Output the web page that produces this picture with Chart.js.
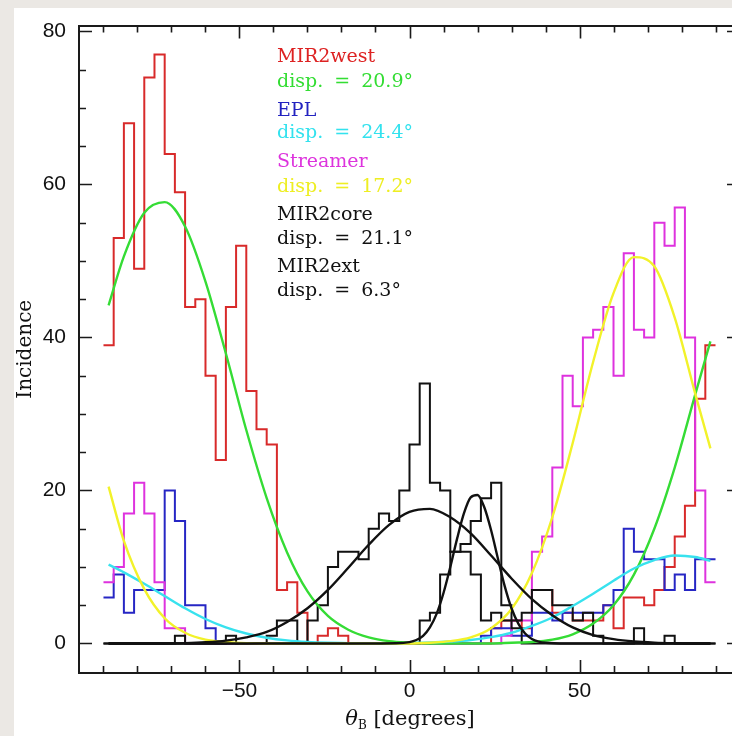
<!DOCTYPE html>
<html>
<head>
<meta charset="utf-8">
<script src="https://cdn.jsdelivr.net/npm/chart.js@4.4.1/dist/chart.umd.min.js"></script>
<style>
  html, body { margin: 0; padding: 0; width: 732px; height: 736px; overflow: hidden; background: #ebe8e4; }
  #paper { position: absolute; left: 14px; top: 8px; width: 718px; height: 728px; background: #ffffff; }
  #wrap { position: absolute; left: 0; top: 0; width: 741px; height: 736px; }
  canvas { display: block; }
  .key { position: absolute; left: 277px; height: 22px; line-height: 22px; font-family: "DejaVu Serif", serif; font-size: 19px; white-space: pre; word-spacing: 5px; }
  #xtitle { position: absolute; left: 0; width: 820px; top: 706px; text-align: center; font-family: "DejaVu Serif", serif; font-size: 21px; color: #111; }
  #xtitle sub { font-size: 12px; vertical-align: -4px; font-style: normal; }
</style>
</head>
<body>
<div id="paper"></div>
<div id="wrap"><canvas id="c" width="741" height="736"></canvas></div>
<div id="keys"></div>
<div id="xtitle"><i>θ</i><sub>B</sub> [degrees]</div>
<script>
// Bin edges of the position-angle histograms (degrees)
const BIN_EDGES = [-90,-87,-84,-81,-78,-75,-72,-69,-66,-63,-60,-57,-54,-51,-48,-45,-42,-39,-36,-33,
  -30,-27,-24,-21,-18,-15,-12,-9,-6,-3,0,3,6,9,12,15,18,21,24,27,
  30,33,36,39,42,45,48,51,54,57,60,63,66,69,72,75,78,81,84,87,90];

// Counts per bin
const MIR2WEST = [39,53,68,49,74,77,64,59,44,45, 35,24,44,52,33,28,26,7,8,4,
  0,1,2,1,0,0,0,0,0,0, 0,0,0,0,0,0,0,0,2,3, 3,2,7,7,4,4,3,3,3,5, 2,6,6,5,7,10,14,18,32,39];
const EPL = [6,9,4,7,7,7,20,16,5,5, 2,0,0,0,0,0,0,0,0,0,
  0,0,0,0,0,0,0,0,0,0, 0,0,0,0,0,0,0,1,2,2, 1,1,4,4,3,4,4,4,4,5, 7,15,12,11,11,7,9,7,11,11];
const STREAMER = [8,10,17,21,17,8,2,2,0,0, 0,0,0,0,0,0,0,0,0,0,
  0,0,0,0,0,0,0,0,0,0, 0,0,0,0,0,0,0,0,0,1, 3,3,12,14,23,35,31,40,41,44, 35,51,41,40,55,52,57,40,20,8];
const MIR2CORE = [0,0,0,0,0,0,0,1,0,0, 0,0,1,0,0,0,1,3,3,0,
  3,5,10,12,12,11,15,17,16,20, 26,34,21,20,12,12,9,3,4,3, 3,4,7,7,5,5,3,4,1,0, 0,0,2,0,0,1,0,0,0,0];
const MIR2EXT = [0,0,0,0,0,0,0,0,0,0, 0,0,0,0,0,0,0,0,0,0,
  0,0,0,0,0,0,0,0,0,0, 0,3,4,9,12,13,16,19,21,5, 2,0,0,0,0,0,0,0,0,0, 0,0,0,0,0,0,0,0,0,0];

// Gaussian fits, sampled along the angle axis
const FIT_X = [-88.5,-84,-78,-72,-66,-60,-54,-48,-42,-36,-30,-24,-18,-12,-6,0,
  6,12,18,24,30,36,42,48,54,60,66,72,78,84,88.5];
const FIT_WEST = [44.2,50.6,56.3,57.7,54.5,47.3,37.9,27.9,19.0,11.9,6.8,3.6,1.8,0.8,0.3,0.1,
  0,0,0,0,0.1,0.2,0.5,1.2,2.6,5.0,9.0,15.0,23.0,32.5,39.5];
const FIT_EPL = [10.3,9.3,7.8,6.2,4.6,3.2,2.1,1.3,0.75,0.4,0.2,0.1,0.05,0,0,0.05,
  0.12,0.25,0.46,0.83,1.4,2.3,3.4,4.9,6.5,8.2,9.8,10.9,11.5,11.3,10.8];
const FIT_STREAMER = [20.5,13.4,7.1,3.3,1.4,0.5,0.2,0.05,0,0,0,0,0,0,0,0,
  0.1,0.3,0.8,2.0,4.5,9.2,16.5,26.2,36.8,45.8,50.5,49.3,42.6,32.7,25.5];
const FIT_CORE = [0,0,0,0,0.05,0.16,0.37,0.8,1.5,2.8,4.6,7.0,9.9,12.9,15.5,17.2,
  17.6,16.5,14.4,11.5,8.5,5.8,3.7,2.1,1.1,0.56,0.25,0.1,0.03,0,0];
const FIT_EXT_X = [-88.5,-10,-4,0,2,4,6,8,10,12,14,16,18,20,22,24,26,28,30,32,34,36,38,40,46,88.5];
const FIT_EXT = [0,0,0.02,0.18,0.45,1.0,2.1,3.9,6.6,10.0,13.7,17.0,19.1,19.4,17.8,14.8,11.1,7.5,4.6,2.6,1.3,0.58,0.24,0.09,0,0];

// Axis labels and tick marks
const X_LABELS = [-50, 0, 50];
const Y_LABELS = [0, 20, 40, 60, 80];
const X_TICKS = [-90,-80,-70,-60,-50,-40,-30,-20,-10,0,10,20,30,40,50,60,70,80,90];
const Y_TICKS = [0,5,10,15,20,25,30,35,40,45,50,55,60,65,70,75,80];

// Key text beside the peaks
const KEY = [
  ['MIR2west', '#dd2222', 55], ['disp. = 20.9°', '#33dd33', 80],
  ['EPL', '#2323c0', 109], ['disp. = 24.4°', '#33e2ee', 131],
  ['Streamer', '#dd33dd', 160], ['disp. = 17.2°', '#eeee22', 185],
  ['MIR2core', '#111111', 213], ['disp. = 21.1°', '#111111', 237],
  ['MIR2ext', '#111111', 265], ['disp. = 6.3°', '#111111', 289]
];

const COLORS = { red: '#d82a2a', green: '#35dc35', blue: '#2626c4', cyan: '#38e2ee', magenta: '#de32de', yellow: '#f2f22a', black: '#111111' };

const keys = document.getElementById('keys');
KEY.forEach(([t, c, yc]) => {
  const d = document.createElement('div');
  d.className = 'key';
  d.textContent = t;
  d.style.color = c;
  d.style.top = (yc - 11) + 'px';
  keys.appendChild(d);
});

function histPoints(counts) {
  return BIN_EDGES.map((e, i) => ({ x: e, y: counts[Math.min(i, counts.length - 1)] }));
}
function curvePoints(xs, ys) {
  return xs.map((x, i) => ({ x, y: ys[i] }));
}
function hist(label, counts, color, order) {
  return { label, data: histPoints(counts), borderColor: color, borderWidth: 2, stepped: 'before', pointRadius: 0, fill: false, order };
}
function fit(label, xs, ys, color, order) {
  return { label, data: curvePoints(xs, ys), borderColor: color, borderWidth: 2.4, cubicInterpolationMode: 'monotone', pointRadius: 0, fill: false, order };
}

const insideTicks = {
  id: 'insideTicks',
  afterDraw(chart) {
    const { ctx, chartArea: a, scales: { x, y } } = chart;
    ctx.save();
    ctx.strokeStyle = '#1a1a1a';
    ctx.lineWidth = 1.6;
    ctx.beginPath();
    X_TICKS.forEach(v => {
      const px = Math.round(x.getPixelForValue(v)) + 0.5;
      const len = v % 50 === 0 ? 13 : 7;
      ctx.moveTo(px, a.bottom); ctx.lineTo(px, a.bottom - len);
      ctx.moveTo(px, a.top); ctx.lineTo(px, a.top + len);
    });
    Y_TICKS.forEach(v => {
      const py = Math.round(y.getPixelForValue(v)) + 0.5;
      const len = v % 20 === 0 ? 13 : 7;
      ctx.moveTo(a.left, py); ctx.lineTo(a.left + len, py);
      ctx.moveTo(a.right, py); ctx.lineTo(a.right - len, py);
    });
    ctx.stroke();
    ctx.restore();
  }
};

const tickFont = { family: '"Liberation Sans", Arial, sans-serif', size: 21 };
const frame = { display: true, color: '#1a1a1a', width: 2 };

new Chart(document.getElementById('c'), {
  type: 'line',
  data: {
    datasets: [
      fit('MIR2ext fit', FIT_EXT_X, FIT_EXT, COLORS.black, 1),
      fit('MIR2core fit', FIT_X, FIT_CORE, COLORS.black, 2),
      fit('Streamer fit', FIT_X, FIT_STREAMER, COLORS.yellow, 3),
      fit('EPL fit', FIT_X, FIT_EPL, COLORS.cyan, 4),
      fit('MIR2west fit', FIT_X, FIT_WEST, COLORS.green, 5),
      hist('MIR2ext', MIR2EXT, COLORS.black, 6),
      hist('MIR2core', MIR2CORE, COLORS.black, 7),
      hist('Streamer', STREAMER, COLORS.magenta, 8),
      hist('EPL', EPL, COLORS.blue, 9),
      hist('MIR2west', MIR2WEST, COLORS.red, 10)
    ]
  },
  options: {
    responsive: false,
    animation: false,
    events: [],
    layout: { padding: 0 },
    plugins: { legend: { display: false }, tooltip: { enabled: false } },
    scales: {
      x: {
        type: 'linear', position: 'bottom', min: -97.2, max: 97.2,
        grid: { display: false, drawTicks: false }, border: frame,
        ticks: { font: tickFont, color: '#111', padding: 6, maxRotation: 0,
          callback: v => String(v).replace('-', '\u2212') },
        afterBuildTicks: s => { s.ticks = X_LABELS.map(v => ({ value: v })); },
        afterFit: s => { s.height = 63; }
      },
      xTop: {
        type: 'linear', position: 'top', min: -97.2, max: 97.2,
        grid: { display: false, drawTicks: false }, border: frame,
        ticks: { display: false },
        afterFit: s => { s.height = 15; }
      },
      y: {
        type: 'linear', position: 'left', min: -3.86, max: 80.77,
        grid: { display: false, drawTicks: false }, border: frame,
        ticks: { font: tickFont, color: '#111', padding: 13 },
        afterBuildTicks: s => { s.ticks = Y_LABELS.map(v => ({ value: v })); },
        afterFit: s => { s.width = 79; },
        title: { display: true, text: 'Incidence', font: { family: '"DejaVu Serif", serif', size: 20 }, color: '#111', padding: { top: 14, bottom: 0 } }
      },
      yRight: {
        type: 'linear', position: 'right', min: -3.86, max: 80.77,
        grid: { display: false, drawTicks: false }, border: frame,
        ticks: { display: false },
        afterFit: s => { s.width = 1; }
      }
    }
  },
  plugins: [insideTicks]
});
</script>
</body>
</html>
